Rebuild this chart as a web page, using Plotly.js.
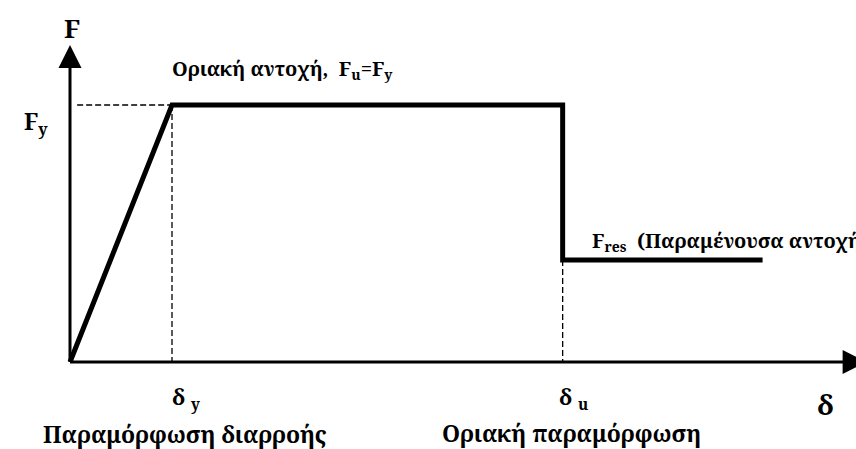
<!DOCTYPE html>
<html>
<head>
<meta charset="utf-8">
<script src="https://cdn.plot.ly/plotly-3.0.1.min.js"></script>
<style>html,body{margin:0;padding:0;background:#fff;overflow:hidden;}#chart{width:872px;height:449px;}</style>
</head>
<body>
<div id="chart"></div>
<script>
// Idealised force–deformation curve (normalised units)
var curveDelta = [0, 1.0, 4.83, 4.83, 6.79];
var curveForce = [0, 1.0, 1.0, 0.397, 0.397];
var deltaY = 1.0, deltaU = 4.83, forceY = 1.0, forceRes = 0.397;
// axis arrow tips (the δ-axis tip runs just past the right edge of the window, as in the reference)
var deltaAxisTip = 7.81, forceAxisTip = 1.233;

var FONT = "'Noto Serif', 'Liberation Serif', serif";
var DASH = {color: '#000', width: 1.3, dash: '6px,3px'};

var traces = [
  // axes
  {x: [0, deltaAxisTip - 0.12], y: [0, 0], mode: 'lines', line: {color: '#000', width: 3}, hoverinfo: 'skip'},
  {x: [0, 0], y: [0, forceAxisTip - 0.05], mode: 'lines', line: {color: '#000', width: 3}, hoverinfo: 'skip'},
  {x: [deltaAxisTip], y: [0], mode: 'markers', marker: {symbol: 'arrow-right', size: 24, color: '#000', line: {width: 0}}, hoverinfo: 'skip', cliponaxis: false},
  {x: [0], y: [forceAxisTip], mode: 'markers', marker: {symbol: 'arrow-up', size: 23, color: '#000', line: {width: 0}}, hoverinfo: 'skip', cliponaxis: false},
  // guide lines
  {x: [0.07, deltaY], y: [forceY, forceY], mode: 'lines', line: DASH, hoverinfo: 'skip'},
  {x: [deltaY, deltaY], y: [forceY, 0], mode: 'lines', line: DASH, hoverinfo: 'skip'},
  {x: [deltaU, deltaU], y: [forceRes, 0], mode: 'lines', line: DASH, hoverinfo: 'skip'},
  // curve
  {x: curveDelta, y: curveForce, mode: 'lines', line: {color: '#000', width: 5}, hoverinfo: 'skip'}
];

function txt(text, x, y, size, xanchor) {
  return {text: '<b>' + text + '</b>', x: x, y: y, xref: 'x', yref: 'y', showarrow: false,
          xanchor: xanchor || 'center', yanchor: 'middle', font: {family: FONT, size: size, color: '#000'}};
}

var annotations = [
  txt('F', 0.02, 1.30, 26),
  txt('Οριακή αντοχή,  F<sub>u</sub>=F<sub>y</sub>', deltaY - 0.02, 1.14, 20, 'left'),
  txt('F<sub>y</sub>', -0.2, 0.93, 23, 'right'),
  txt('F<sub>res</sub>  (Παραμένουσα αντοχή)', 5.10, 0.47, 20, 'left'),
  txt('δ <sub>y</sub>', deltaY - 0.02, -0.14, 22, 'left'),
  txt('Παραμόρφωση διαρροής', 1.13, -0.28, 23),
  txt('δ <sub>u</sub>', 4.77, -0.14, 22, 'left'),
  txt('Οριακή παραμόρφωση', 4.92, -0.275, 23),
  txt('δ', 7.41, -0.165, 28)
];

var layout = {
  width: 872, height: 449, margin: {l: 0, r: 0, t: 0, b: 0},
  paper_bgcolor: '#fff', plot_bgcolor: '#fff', showlegend: false,
  xaxis: {range: [-70/102, 802/102], visible: false, fixedrange: true},
  yaxis: {range: [-87/257, 362/257], visible: false, fixedrange: true},
  annotations: annotations
};

Plotly.newPlot('chart', traces, layout, {staticPlot: true});
</script>
</body>
</html>
